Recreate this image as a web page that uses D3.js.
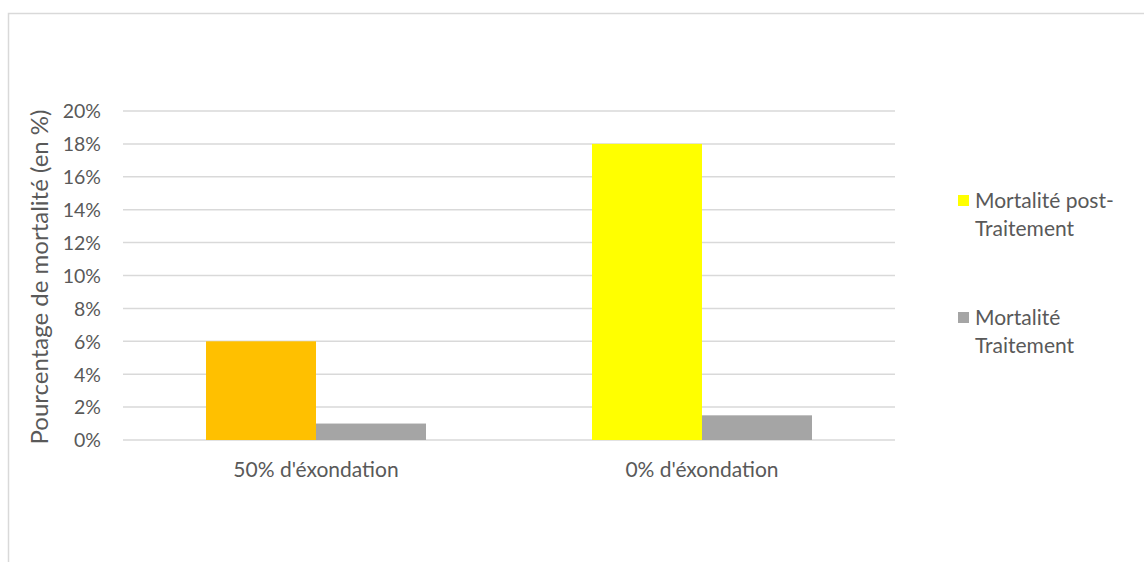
<!DOCTYPE html>
<html>
<head>
<meta charset="utf-8">
<script src="https://cdn.jsdelivr.net/npm/d3@7"></script>
<style>
  html, body { margin: 0; padding: 0; background: #fff; }
  svg text { font-family: Lato, "Open Sans", sans-serif; fill: #595959; }
</style>
</head>
<body>
<svg id="chart" width="1144" height="562"></svg>
<script>
// Mortality by exposure condition
const categories = ["50% d'éxondation", "0% d'éxondation"];
const postTraitement = [0.06, 0.18];
const traitement = [0.01, 0.015];
const yTicks = [0, 0.02, 0.04, 0.06, 0.08, 0.10, 0.12, 0.14, 0.16, 0.18, 0.20];
const seriesNames = ["Mortalité post-Traitement", "Mortalité Traitement"];
const legendLines = [["Mortalité post-", "Traitement"], ["Mortalité", "Traitement"]];

const svg = d3.select("#chart");

// chart frame
svg.append("path")
  .attr("d", "M8.5,562 V13.5 H1144")
  .attr("fill", "none")
  .attr("stroke", "#d9d9d9")
  .attr("stroke-width", 1.5);

const plot = { left: 123, right: 895, top: 111, bottom: 440 };

const x = d3.scaleBand().domain(categories).range([plot.left, plot.right]).paddingInner(0).paddingOuter(0);
const y = d3.scaleLinear().domain([0, 0.20]).range([plot.bottom, plot.top]);

// gridlines
svg.append("g").selectAll("line").data(yTicks).join("line")
  .attr("x1", plot.left).attr("x2", plot.right)
  .attr("y1", d => y(d)).attr("y2", d => y(d))
  .attr("stroke", "#d9d9d9").attr("stroke-width", 1.5);

// y tick labels
const yAxis = d3.axisLeft(y).tickValues(yTicks).tickFormat(d3.format(".0%")).tickSize(0).tickPadding(0);
const gy = svg.append("g").attr("transform", "translate(101,0)").call(yAxis);
gy.select(".domain").remove();
gy.selectAll("text").style("font-size", "19.5px").attr("fill", "#595959").attr("dy", "0.35em");

// bars
const barW = 110;
const series = [
  { name: seriesNames[0], values: postTraitement, colors: ["#ffc000", "#ffff00"] },
  { name: seriesNames[1], values: traitement, colors: ["#a5a5a5", "#a5a5a5"] }
];
const xs = d3.scaleBand().domain([0, 1]).range([0, barW * 2]);
series.forEach((s, si) => {
  svg.append("g").selectAll("rect").data(categories).join("rect")
    .attr("x", (c) => x(c) + x.bandwidth() / 2 - barW + xs(si))
    .attr("width", barW)
    .attr("y", (c, i) => y(s.values[i]))
    .attr("height", (c, i) => y(0) - y(s.values[i]))
    .attr("fill", (c, i) => s.colors[i]);
});

// category labels
svg.append("g").selectAll("text").data(categories).join("text")
  .attr("x", c => x(c) + x.bandwidth() / 2)
  .attr("y", 477)
  .attr("text-anchor", "middle")
  .style("font-size", "21px")
  .text(c => c);

// y axis title
svg.append("text")
  .attr("transform", "translate(48,277) rotate(-90)")
  .attr("text-anchor", "middle")
  .style("font-size", "24px")
  .text("Pourcentage de mortalité (en %)");

// legend
const legendColors = ["#ffff00", "#a5a5a5"];
const legendY = [201, 318];
const lg = svg.append("g");
legendLines.forEach((lines, i) => {
  lg.append("rect").attr("x", 958).attr("y", legendY[i] - 6).attr("width", 11).attr("height", 11).attr("fill", legendColors[i]);
  const t = lg.append("text").attr("x", 975).attr("y", legendY[i] + 7).style("font-size", "21px");
  lines.forEach((ln, j) => t.append("tspan").attr("x", 975).attr("dy", j === 0 ? 0 : 28).text(ln));
});
</script>
</body>
</html>
